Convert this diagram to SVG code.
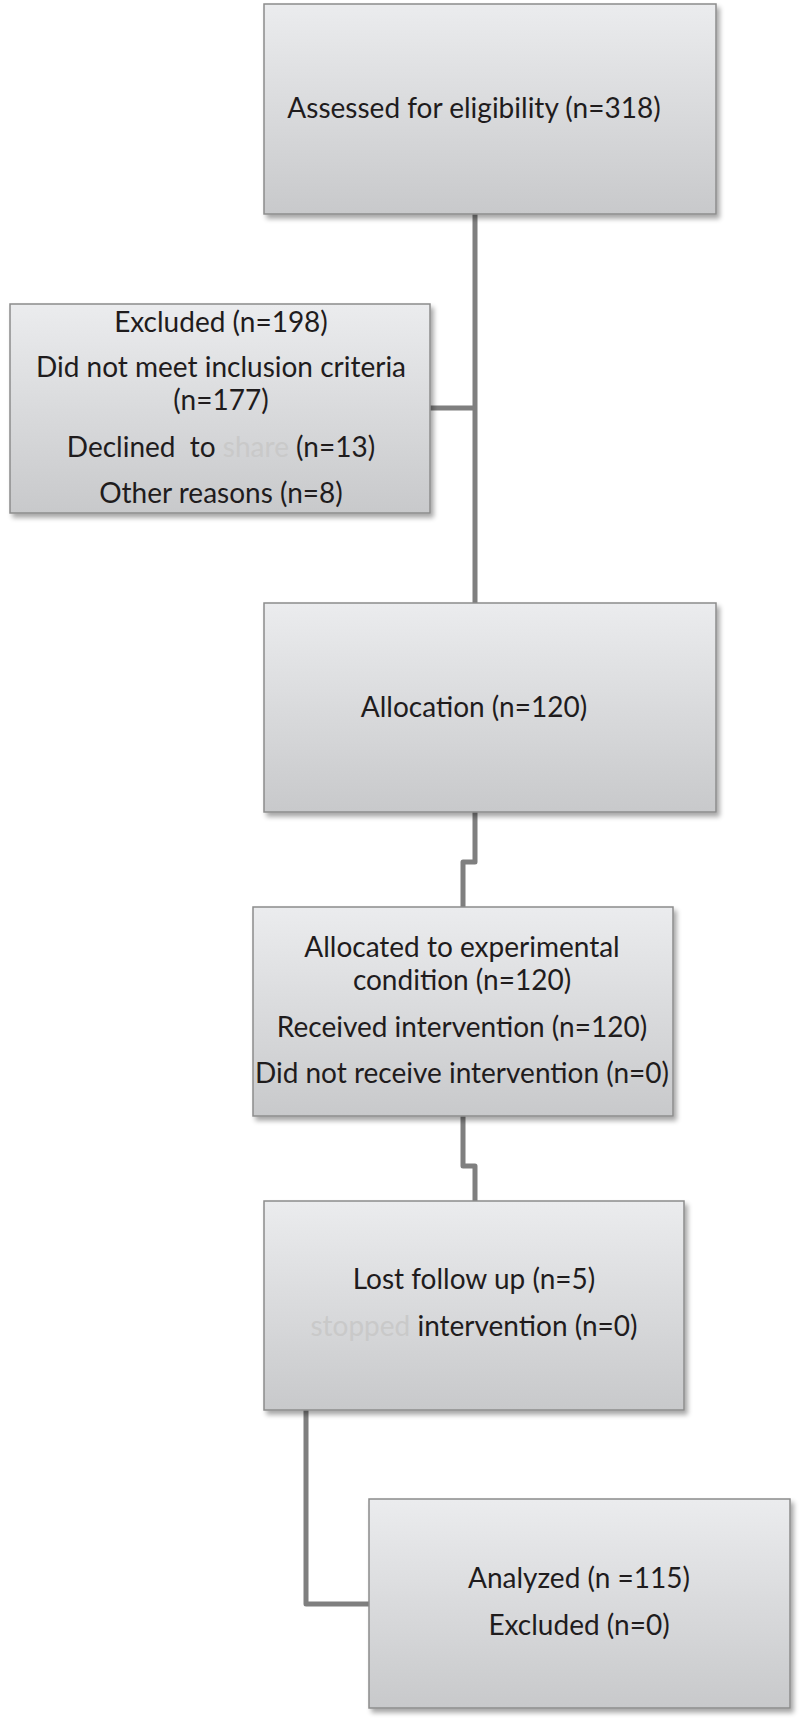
<svg xmlns="http://www.w3.org/2000/svg" width="800" height="1723" viewBox="0 0 800 1723">
<defs>
<linearGradient id="g" x1="0" y1="0" x2="0" y2="1">
<stop offset="0" stop-color="#ebecee"/>
<stop offset="1" stop-color="#c8c9cb"/>
</linearGradient>
<filter id="sh" x="-5%" y="-5%" width="115%" height="115%">
<feGaussianBlur in="SourceAlpha" stdDeviation="2.5"/>
<feOffset dx="3" dy="4" result="b"/>
<feComponentTransfer><feFuncA type="linear" slope="0.35"/></feComponentTransfer>
<feMerge><feMergeNode/><feMergeNode in="SourceGraphic"/></feMerge>
</filter>
</defs>
<style>
.box{fill:url(#g);stroke:#8c8c8c;stroke-width:1.5;filter:url(#sh)}
.t{font-family:Lato,"Liberation Sans",sans-serif;font-size:28px;fill:#1f1c1d;text-anchor:middle;white-space:pre}
.f{fill:#c9c9c9}
.c{fill:none;stroke:#7f7f7f;stroke-width:5;stroke-linejoin:round}
</style>
<rect width="800" height="1723" fill="#ffffff"/>
<g id="connectors">
<path class="c" d="M475 214 V603"/>
<path class="c" d="M430 408 H475"/>
<path class="c" d="M475 812 V862 H463 V907"/>
<path class="c" d="M463 1116 V1166 H475 V1201"/>
<path class="c" d="M306 1410 V1604 H369"/>
</g>
<g id="assessed">
<rect class="box" x="264" y="4" width="452" height="210"/>
<text class="t" x="474" y="118">Assessed for eligibility (n=318)</text>
</g>
<g id="excluded">
<rect class="box" x="10" y="304" width="420" height="209"/>
<text class="t" x="221" y="332">Excluded (n=198)</text>
<text class="t" x="221" y="377">Did not meet inclusion criteria</text>
<text class="t" x="221" y="410">(n=177)</text>
<text class="t" x="221" y="457">Declined  to <tspan class="f">share</tspan> (n=13)</text>
<text class="t" x="221" y="503">Other reasons (n=8)</text>
</g>
<g id="allocation">
<rect class="box" x="264" y="603" width="452" height="209"/>
<text class="t" x="474" y="717">Allocation (n=120)</text>
</g>
<g id="allocated">
<rect class="box" x="253" y="907" width="420" height="209"/>
<text class="t" x="462" y="957">Allocated to experimental</text>
<text class="t" x="462" y="990">condition (n=120)</text>
<text class="t" x="462" y="1037">Received intervention (n=120)</text>
<text class="t" x="462" y="1083">Did not receive intervention (n=0)</text>
</g>
<g id="followup">
<rect class="box" x="264" y="1201" width="420" height="209"/>
<text class="t" x="474" y="1289">Lost follow up (n=5)</text>
<text class="t" x="474" y="1336"><tspan class="f">stopped</tspan> intervention (n=0)</text>
</g>
<g id="analyzed">
<rect class="box" x="369" y="1499" width="421" height="209"/>
<text class="t" x="579" y="1588">Analyzed (n =115)</text>
<text class="t" x="579" y="1635">Excluded (n=0)</text>
</g>
</svg>
